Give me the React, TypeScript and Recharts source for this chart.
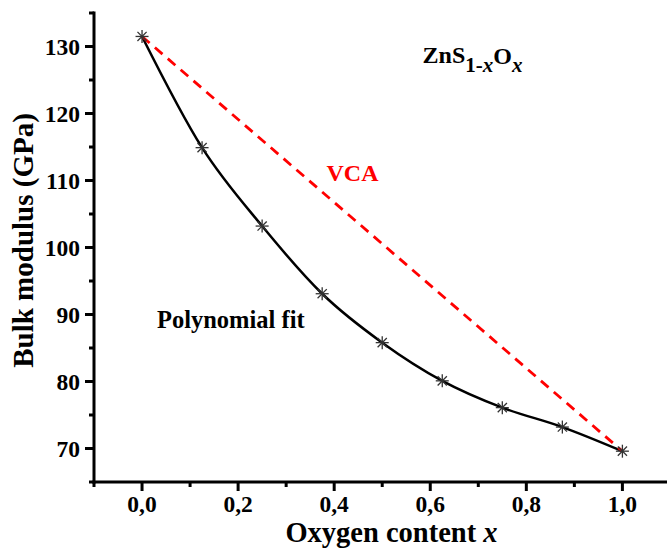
import { ComposedChart, Line, XAxis, YAxis, ReferenceDot, Label } from "recharts";

const oxygen = [0, 0.125, 0.25, 0.375, 0.5, 0.625, 0.75, 0.875, 1.0];
const bulkModulus = [131.5, 114.9, 103.2, 93.1, 85.8, 80.1, 76.1, 73.2, 69.6];
const vcaOxygen = [0, 1.0];
const vcaBulk = [131.5, 69.6];

const xMajorTicks = [0, 0.2, 0.4, 0.6, 0.8, 1.0];
const xMinorTicks = [-0.1, 0.1, 0.3, 0.5, 0.7, 0.9];
const yMajorTicks = [70, 80, 90, 100, 110, 120, 130];
const yMinorTicks = [65, 75, 85, 95, 105, 115, 125, 135];

const fitData = oxygen.map((x, i) => ({ x, bulk: bulkModulus[i] }));
const vcaData = vcaOxygen.map((x, i) => ({ x, vca: vcaBulk[i] }));
const xTicks = [...xMajorTicks, ...xMinorTicks].sort((a, b) => a - b);
const yTicks = [...yMajorTicks, ...yMinorTicks].sort((a, b) => a - b);

const FONT = "'Liberation Serif', 'Times New Roman', Times, serif";
const serif = { fontFamily: FONT, fontWeight: 700 };
const X_DOMAIN: [number, number] = [-0.1, 1.097];
const Y_DOMAIN: [number, number] = [65, 135];
const MAJOR = 9;
const MINOR = 5;

const commaLabel = (v: number) => v.toFixed(1).replace(".", ",");

function BottomTick({ x, y, payload }: any) {
  const major = xMajorTicks.includes(payload.value);
  return (
    <g>
      <line x1={x} x2={x} y1={y} y2={y + (major ? MAJOR : MINOR)} stroke="#000" strokeWidth={3} />
      {major && (
        <text x={x} y={y + 29.5} textAnchor="middle" style={{ ...serif, fontSize: 23.5 }} fill="#000">
          {commaLabel(payload.value)}
        </text>
      )}
    </g>
  );
}

function TopTick({ x, y, payload }: any) {
  const major = xMajorTicks.includes(payload.value);
  return <line x1={x} x2={x} y1={y} y2={y + (major ? MAJOR : MINOR)} stroke="#000" strokeWidth={3} />;
}

function LeftTick({ x, y, payload }: any) {
  const major = yMajorTicks.includes(payload.value);
  return (
    <g>
      <line x1={x} x2={x - (major ? MAJOR : MINOR)} y1={y} y2={y} stroke="#000" strokeWidth={3} />
      {major && (
        <text x={x - 14} y={y} dy="0.35em" textAnchor="end" style={{ ...serif, fontSize: 23.5 }} fill="#000">
          {payload.value}
        </text>
      )}
    </g>
  );
}

function RightTick({ x, y, payload }: any) {
  const major = yMajorTicks.includes(payload.value);
  return <line x1={x} x2={x - (major ? MAJOR : MINOR)} y1={y} y2={y} stroke="#000" strokeWidth={3} />;
}

function Asterisk(props: any) {
  const { cx, cy } = props;
  const r = 6.5;
  const d = r * 0.707;
  return (
    <g stroke="#333" strokeWidth={1.3}>
      <line x1={cx - r} x2={cx + r} y1={cy} y2={cy} />
      <line x1={cx} x2={cx} y1={cy - r} y2={cy + r} />
      <line x1={cx - d} x2={cx + d} y1={cy - d} y2={cy + d} />
      <line x1={cx - d} x2={cx + d} y1={cy + d} y2={cy - d} />
    </g>
  );
}

const axisLine = { stroke: "#000", strokeWidth: 3, strokeLinecap: "square" as const };

export default function App() {
  return (
    <div
      style={{
        position: "absolute",
        left: 0,
        top: 0,
        width: 667,
        height: 555,
        background: "#fff",
        overflow: "hidden",
        fontFamily: FONT,
      }}
    >
      <ComposedChart width={667} height={555} margin={{ top: 13, right: -2, bottom: 0, left: 0 }}>
        <XAxis
          dataKey="x"
          type="number"
          domain={X_DOMAIN}
          allowDataOverflow
          ticks={xTicks}
          interval={0}
          height={73}
          tickSize={0}
          tickMargin={0}
          tickLine={false}
          axisLine={axisLine}
          tick={<BottomTick />}
        >
          <Label
            content={({ viewBox }: any) => (
              <text
                x={viewBox.x + viewBox.width / 2 + 10}
                y={viewBox.y + 60}
                textAnchor="middle"
                style={{ ...serif, fontSize: 28.5 }}
                fill="#000"
              >
                Oxygen content <tspan fontStyle="italic">x</tspan>
              </text>
            )}
          />
        </XAxis>
        <XAxis
          xAxisId="top"
          dataKey="x"
          type="number"
          orientation="top"
          mirror
          domain={X_DOMAIN}
          allowDataOverflow
          ticks={xTicks}
          interval={0}
          height={0}
          tickSize={0}
          tickMargin={0}
          tickLine={false}
          axisLine={axisLine}
          tick={<TopTick />}
        />
        <YAxis
          type="number"
          domain={Y_DOMAIN}
          allowDataOverflow
          ticks={yTicks}
          interval={0}
          width={94}
          tickSize={0}
          tickMargin={0}
          tickLine={false}
          axisLine={axisLine}
          tick={<LeftTick />}
        >
          <Label
            content={({ viewBox }: any) => {
              const cy = viewBox.y + viewBox.height / 2 - 7;
              return (
                <text
                  x={33}
                  y={cy}
                  transform={`rotate(-90 33 ${cy})`}
                  textAnchor="middle"
                  style={{ ...serif, fontSize: 29 }}
                  fill="#000"
                >
                  Bulk modulus (GPa)
                </text>
              );
            }}
          />
        </YAxis>
        <YAxis
          yAxisId="right"
          type="number"
          orientation="right"
          mirror
          domain={Y_DOMAIN}
          allowDataOverflow
          ticks={yTicks}
          interval={0}
          width={0}
          tickSize={0}
          tickMargin={0}
          tickLine={false}
          axisLine={axisLine}
          tick={<RightTick />}
        />

        <Line
          data={fitData}
          dataKey="bulk"
          type="monotone"
          stroke="#000"
          strokeWidth={2.5}
          dot={(p: any) => <Asterisk key={`fit-${p.index}`} {...p} />}
          activeDot={false}
          isAnimationActive={false}
        />
        <Line
          data={vcaData}
          dataKey="vca"
          type="linear"
          stroke="#ff0000"
          strokeWidth={2.8}
          strokeDasharray="10 7"
          dot={false}
          activeDot={false}
          isAnimationActive={false}
        />

        <ReferenceDot
          x={0.584}
          y={127.5}
          r={0}
          ifOverflow="visible"
          label={{
            content: ({ viewBox }: any) => (
              <text x={viewBox.x} y={viewBox.y} style={{ ...serif, fontSize: 24 }} fill="#000">
                ZnS
                <tspan fontSize={21} dy={9}>1-</tspan>
                <tspan fontSize={21} fontStyle="italic">x</tspan>
                <tspan fontSize={24} dy={-8}>O</tspan>
                <tspan fontSize={21} fontStyle="italic" dy={8}>x</tspan>
              </text>
            ),
          }}
        />
        <ReferenceDot
          x={0.384}
          y={109.9}
          r={0}
          ifOverflow="visible"
          label={{
            content: ({ viewBox }: any) => (
              <text x={viewBox.x} y={viewBox.y} style={{ ...serif, fontSize: 24 }} fill="#ff0000">
                VCA
              </text>
            ),
          }}
        />
        <ReferenceDot
          x={0.031}
          y={88.0}
          r={0}
          ifOverflow="visible"
          label={{
            content: ({ viewBox }: any) => (
              <text x={viewBox.x} y={viewBox.y} style={{ ...serif, fontSize: 24.5 }} fill="#000">
                Polynomial fit
              </text>
            ),
          }}
        />
      </ComposedChart>
    </div>
  );
}
